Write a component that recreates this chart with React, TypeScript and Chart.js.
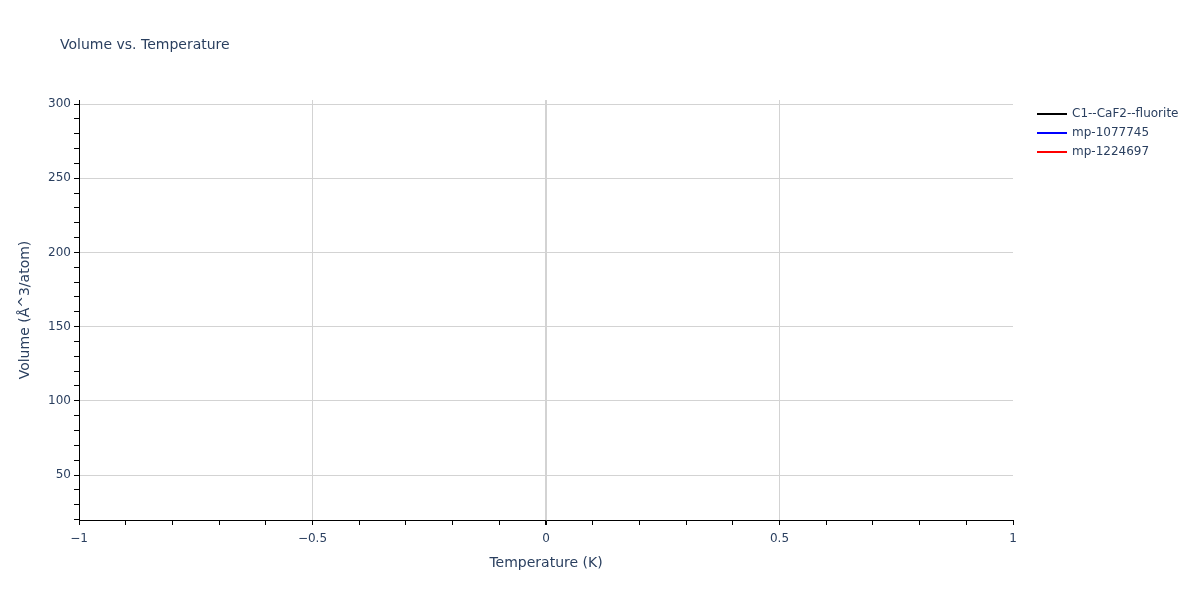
import { useEffect, useRef } from 'react';
import { Chart, registerables } from 'chart.js';

Chart.register(...registerables);

// Series (one point each at 0 K, drawn as lines only, so nothing shows)
const seriesNames = ['C1--CaF2--fluorite', 'mp-1077745', 'mp-1224697'];
const seriesColors = ['#000000', '#0000ff', '#ff0000'];
const temperatures = [0];
const fluoriteVolumes = [32.6];
const mp1077745Volumes = [160];
const mp1224697Volumes = [289.7];

// Axes
const xRange = [-1, 1];
const yRange = [19.7, 302.7];
const xMajorTicks = [-1, -0.5, 0, 0.5, 1];
const yMajorTicks = [50, 100, 150, 200, 250, 300];
const xMinorStep = 0.1;
const yMinorStep = 10;

const FONT = '"DejaVu Sans", verdana, arial, sans-serif';
const TEXT = '#2a3f5f';
const GRID = '#d3d3d3';

const isMajor = (list: number[], v: number) => list.some((m) => Math.abs(m - v) < 1e-9);
const fmt = (v: number) => (v < 0 ? '\u2212' + String(Math.abs(v)) : String(v));

const overlay = {
  id: 'overlay',
  afterDraw(chart: any) {
    const ctx = chart.ctx;
    ctx.save();
    ctx.fillStyle = TEXT;
    ctx.textBaseline = 'middle';
    ctx.textAlign = 'left';
    ctx.font = `14px ${FONT}`;
    ctx.fillText('Volume vs. Temperature', 60, 45);
    ctx.font = `12px ${FONT}`;
    chart.data.datasets.forEach((ds: any, i: number) => {
      const y = 114 + i * 19;
      ctx.strokeStyle = ds.borderColor;
      ctx.lineWidth = 2;
      ctx.beginPath();
      ctx.moveTo(1037, y);
      ctx.lineTo(1067, y);
      ctx.stroke();
      ctx.fillStyle = TEXT;
      ctx.fillText(ds.label, 1072, y);
    });
    ctx.restore();
  },
};

export default function App() {
  const canvasRef = useRef<HTMLCanvasElement>(null);
  const chartRef = useRef<Chart | null>(null);

  useEffect(() => {
    if (!canvasRef.current) return;
    if (chartRef.current) {
      chartRef.current.destroy();
      chartRef.current = null;
    }
    const volumes = [fluoriteVolumes, mp1077745Volumes, mp1224697Volumes];

    chartRef.current = new Chart(canvasRef.current, {
      type: 'line',
      data: {
        datasets: seriesNames.map((name, i) => ({
          label: name,
          data: temperatures.map((t, j) => ({ x: t, y: volumes[i][j] })),
          borderColor: seriesColors[i],
          backgroundColor: seriesColors[i],
          borderWidth: 2,
          pointRadius: 0,
          fill: false,
        })),
      },
      options: {
        animation: false,
        responsive: true,
        maintainAspectRatio: false,
        layout: { padding: { left: 0, right: 187, top: 100, bottom: 0 } },
        plugins: {
          legend: { display: false },
          title: { display: false },
          tooltip: { enabled: false },
        },
        scales: {
          x: {
            type: 'linear',
            min: xRange[0],
            max: xRange[1],
            afterBuildTicks: (scale: any) => {
              const n = Math.round((xRange[1] - xRange[0]) / xMinorStep);
              scale.ticks = Array.from({ length: n + 1 }, (_, i) => ({
                value: Math.round((xRange[0] + i * xMinorStep) * 10) / 10,
              }));
            },
            afterFit: (scale: any) => {
              scale.height = 80;
            },
            ticks: {
              autoSkip: false,
              maxRotation: 0,
              padding: 7,
              color: TEXT,
              font: { family: FONT, size: 12 },
              callback: (v: any) => (isMajor(xMajorTicks, Number(v)) ? fmt(Number(v)) : ''),
            },
            grid: {
              drawTicks: true,
              tickLength: 5,
              tickColor: '#000',
              color: (c: any) =>
                c.tick && isMajor(xMajorTicks, c.tick.value) && c.tick.value > xRange[0] && c.tick.value < xRange[1]
                  ? GRID
                  : 'rgba(0,0,0,0)',
              lineWidth: (c: any) => (c.tick && Math.abs(c.tick.value) < 1e-9 ? 2 : 1),
            },
            border: { display: true, color: '#000', width: 1 },
            title: {
              display: true,
              text: 'Temperature (K)',
              color: TEXT,
              font: { family: FONT, size: 14 },
              padding: { top: 0, bottom: 28 },
            },
          },
          y: {
            type: 'linear',
            min: yRange[0],
            max: yRange[1],
            afterBuildTicks: (scale: any) => {
              const ticks = [];
              for (let v = Math.ceil(yRange[0] / yMinorStep) * yMinorStep; v <= yRange[1]; v += yMinorStep) {
                ticks.push({ value: v });
              }
              scale.ticks = ticks;
            },
            afterFit: (scale: any) => {
              scale.width = 79;
            },
            ticks: {
              autoSkip: false,
              padding: 3,
              color: TEXT,
              font: { family: FONT, size: 12 },
              callback: (v: any) => (isMajor(yMajorTicks, Number(v)) ? fmt(Number(v)) : ''),
            },
            grid: {
              drawTicks: true,
              tickLength: 5,
              tickColor: '#000',
              color: (c: any) => (c.tick && isMajor(yMajorTicks, c.tick.value) ? GRID : 'rgba(0,0,0,0)'),
              lineWidth: 1,
            },
            border: { display: true, color: '#000', width: 1 },
            title: {
              display: true,
              text: 'Volume (Å^3/atom)',
              color: TEXT,
              font: { family: FONT, size: 14 },
              padding: { top: 17, bottom: 0 },
            },
          },
        },
      },
      plugins: [overlay],
    } as any);

    return () => {
      if (chartRef.current) {
        chartRef.current.destroy();
        chartRef.current = null;
      }
    };
  }, []);

  return (
    <div style={{ position: 'absolute', left: 0, top: 0, width: 1200, height: 600, background: '#fff' }}>
      <canvas ref={canvasRef} />
    </div>
  );
}
